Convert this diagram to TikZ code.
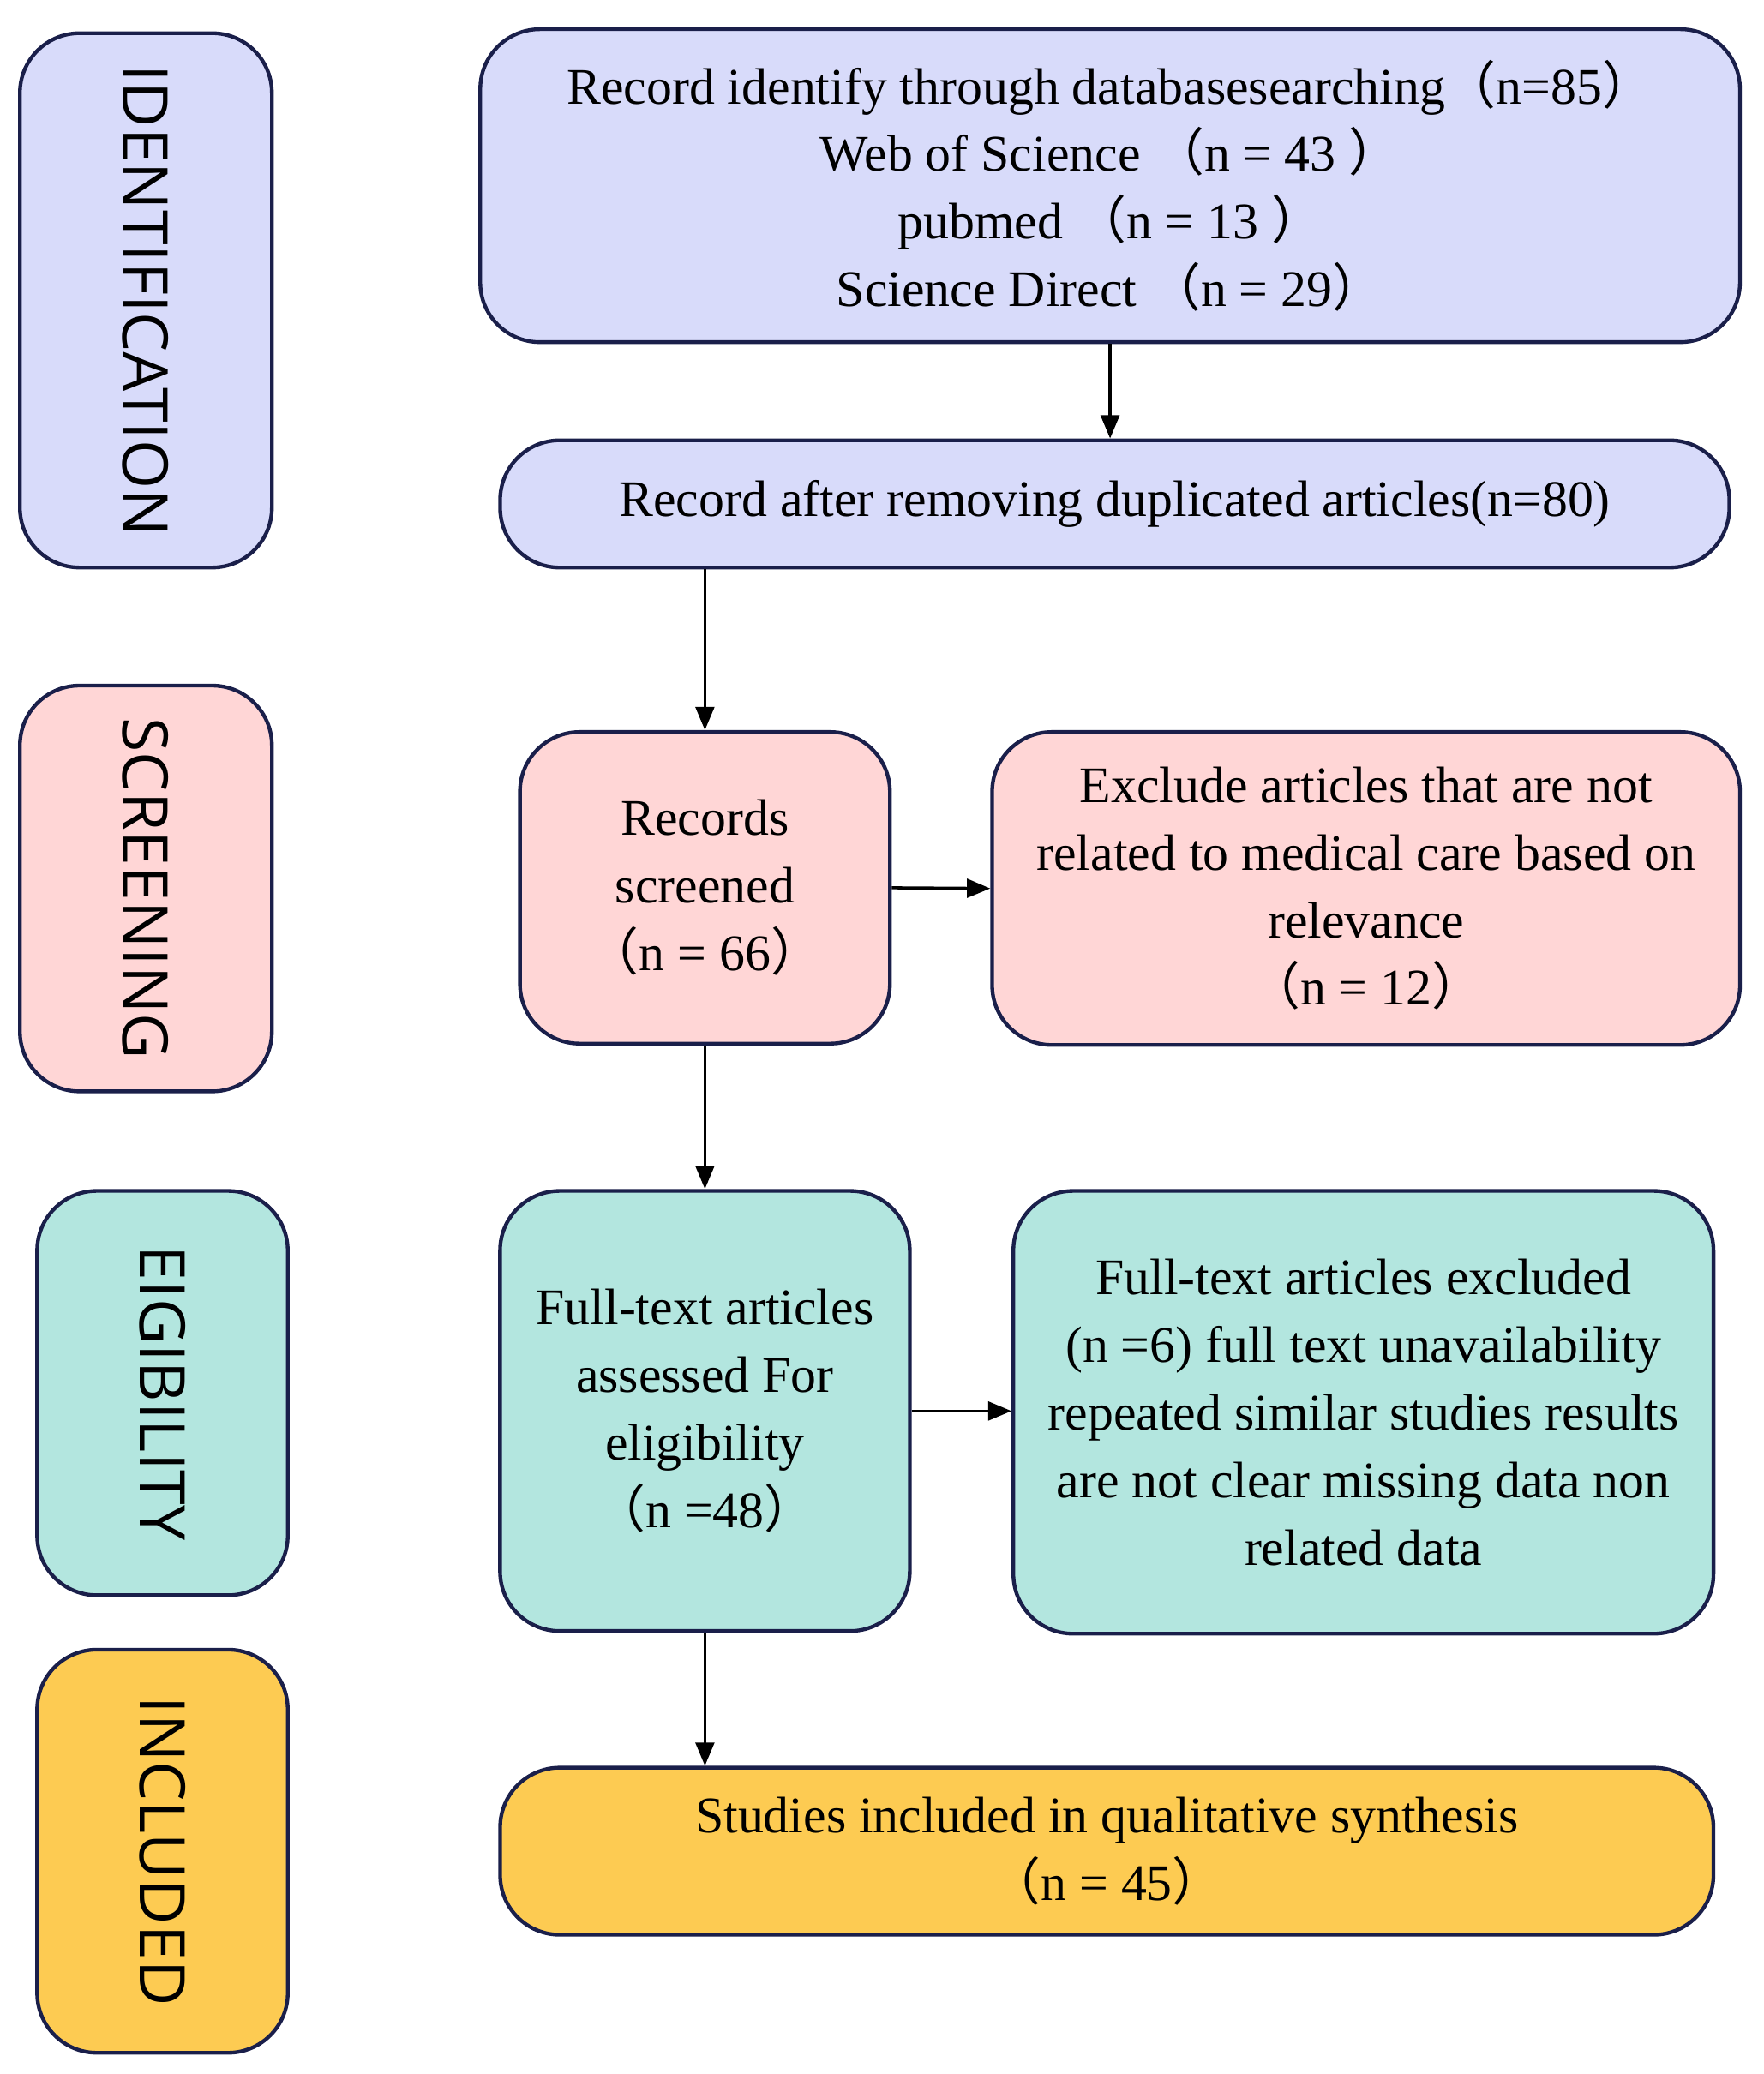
\documentclass[tikz,border=0pt]{standalone}
\usepackage{fontspec}
\setmainfont{Liberation Serif}
\newfontfamily\side{Open Sans}
\newfontfamily\cjk{Noto Sans CJK SC}
\newcommand\lp{{\cjk （}}
\newcommand\rp{{\cjk ）}}
\usetikzlibrary{arrows.meta}
\definecolor{bd}{HTML}{1A1F4A}
\definecolor{cb}{HTML}{D8DBFA}
\definecolor{cp}{HTML}{FFD6D6}
\definecolor{ct}{HTML}{B3E6DF}
\definecolor{cy}{HTML}{FDCB52}
\begin{document}
\begin{tikzpicture}[x=0.02cm,y=-0.02cm,
 box/.style={draw=bd,line width=1.6pt,rounded corners=0.9cm,align=center,inner sep=0pt,
   font=\fontsize{22}{29}\selectfont},
 sd/.style={box,font=\side\fontsize{27}{30}\selectfont},
 arr/.style={draw=black,line width=1.3pt,-{Triangle[length=10pt,width=8pt]}}]
\useasboundingbox (0,0) rectangle (1330,1564);
\node[sd,fill=cb,minimum width=3.8cm,minimum height=8.06cm] (s1) at (110,226.5) {\rotatebox{-90}{IDENTIFICATION}};
\node[sd,fill=cp,minimum width=3.8cm,minimum height=6.12cm] (s2) at (110,670) {\rotatebox{-90}{SCREENING}};
\node[sd,fill=ct,minimum width=3.78cm,minimum height=6.1cm] (s3) at (122.5,1050.5) {\rotatebox{-90}{EIGIBILITY}};
\node[sd,fill=cy,minimum width=3.78cm,minimum height=6.08cm] (s4) at (122.5,1396) {\rotatebox{-90}{INCLUDED}};
\node[box,fill=cb,minimum width=19cm,minimum height=4.72cm] (b1) at (837,140)
 {Record identify through databasesearching\lp n=85\rp\\Web of Science \lp n = 43 \rp\\pubmed \lp n = 13 \rp\\Science Direct \lp n = 29\rp};
\node[box,fill=cb,minimum width=18.54cm,minimum height=1.92cm] (b2) at (840.5,380)
 {Record after removing duplicated articles(n=80)};
\node[box,fill=cp,minimum width=5.58cm,minimum height=4.7cm] (b3) at (531.5,669.5)
 {Records\\screened\\\lp n = 66\rp};
\node[box,fill=cp,minimum width=11.28cm,minimum height=4.72cm] (b4) at (1030,670)
 {Exclude articles that are not\\related to medical care based on\\relevance\\\lp n = 12\rp};
\node[box,fill=ct,minimum width=6.18cm,minimum height=6.64cm] (b5) at (531.5,1064)
 {Full-text articles\\assessed For\\eligibility\\\lp n =48\rp};
\node[box,fill=ct,minimum width=10.56cm,minimum height=6.68cm] (b6) at (1028,1065)
 {Full-text articles excluded\\(n =6) full text unavailability\\repeated similar studies results\\are not clear missing data non\\related data};
\node[box,fill=cy,minimum width=18.3cm,minimum height=2.52cm] (b7) at (834.5,1396)
 {Studies included in qualitative synthesis\\\lp n = 45\rp};
\draw[arr] (b1.south) -- (b1.south |- b2.north);
\draw[arr] (b3.north |- b2.south) -- (b3.north);
\draw[arr] (b3.east) -- (b4.west);
\draw[arr] (b3.south) -- (b5.north);
\draw[arr] (b5.east) -- (b5.east -| b6.west);
\draw[arr] (b5.south) -- (b5.south |- b7.north);
\end{tikzpicture}
\end{document}
